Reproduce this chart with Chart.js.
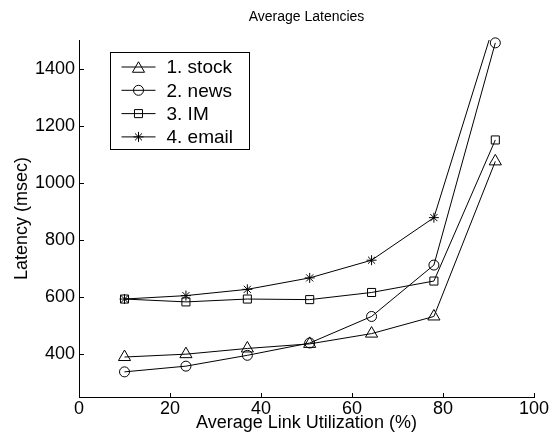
<!DOCTYPE html>
<html>
<head>
<meta charset="utf-8">
<script src="https://cdn.jsdelivr.net/npm/chart.js@4/dist/chart.umd.min.js"></script>
<style>
  html, body { margin: 0; padding: 0; background: #fff; }
  #wrap { width: 552px; height: 445px; }
</style>
</head>
<body>
<div id="wrap"><canvas id="c" width="552" height="445"></canvas></div>
<script>
const utilization = [10, 23.5, 37, 50.7, 64.3, 78, 91.5];
const stock = [390, 400, 420, 436, 472, 532, 1075];
const news  = [338, 358, 396, 439, 532, 712, 1490];
const im    = [593, 583, 593, 591, 616, 656, 1150];
const email = [593, 605, 627, 667, 729, 878, 1570];
const seriesNames = ['1. stock', '2. news', '3. IM', '4. email'];
const xTicks = [0, 20, 40, 60, 80, 100];
const yTicks = [400, 600, 800, 1000, 1200, 1400];

const FONT = "'Liberation Sans', Arial, Helvetica, sans-serif";

function pts(vals) { return vals.map((v, i) => ({ x: utilization[i], y: v })); }

const styles = [
  { pointStyle: 'triangle', radius: 7 },
  { pointStyle: 'circle', radius: 5 },
  { pointStyle: 'rect', radius: 5.7 },
  { pointStyle: 'star', radius: 5 }
];
const seriesData = [stock, news, im, email];

function drawMarker(ctx, style, r, x, y) {
  ctx.beginPath();
  if (style === 'circle') {
    ctx.arc(x, y, r, 0, Math.PI * 2);
  } else if (style === 'triangle') {
    for (let k = 0; k < 3; k++) {
      const a = -Math.PI / 2 + k * 2 * Math.PI / 3;
      const px = x + r * Math.cos(a), py = y + r * Math.sin(a) + r * 0.25;
      if (k === 0) ctx.moveTo(px, py); else ctx.lineTo(px, py);
    }
    ctx.closePath();
  } else if (style === 'rect') {
    const s = r / Math.SQRT2;
    ctx.rect(x - s, y - s, 2 * s, 2 * s);
  } else if (style === 'star') {
    ctx.moveTo(x - r, y); ctx.lineTo(x + r, y);
    ctx.moveTo(x, y - r); ctx.lineTo(x, y + r);
    const d = r * Math.SQRT1_2;
    ctx.moveTo(x - d, y - d); ctx.lineTo(x + d, y + d);
    ctx.moveTo(x - d, y + d); ctx.lineTo(x + d, y - d);
  }
  ctx.stroke();
}

const extrasPlugin = {
  id: 'extras',
  afterDraw(chart) {
    const ctx = chart.ctx;
    const ca = chart.chartArea;
    const xs = chart.scales.x, ys = chart.scales.y;
    ctx.save();
    ctx.strokeStyle = '#000';
    ctx.lineWidth = 1;
    // inward tick marks
    ctx.beginPath();
    xTicks.forEach(v => {
      const px = Math.round(xs.getPixelForValue(v)) + 0.5;
      ctx.moveTo(px, Math.round(ca.bottom) + 0.5);
      ctx.lineTo(px, Math.round(ca.bottom) - 4);
    });
    yTicks.forEach(v => {
      const py = Math.round(ys.getPixelForValue(v)) + 0.5;
      ctx.moveTo(Math.round(ca.left) + 0.5, py);
      ctx.lineTo(Math.round(ca.left) + 5, py);
    });
    ctx.stroke();
    // title
    ctx.fillStyle = '#000';
    ctx.font = '14px ' + FONT;
    ctx.textAlign = 'center';
    ctx.textBaseline = 'middle';
    ctx.fillText('Average Latencies', (ca.left + ca.right) / 2, 17);
    // legend
    const bx = ca.left + 31.5, by = ca.top + 12.5, bw = 139, bh = 97;
    ctx.fillStyle = '#fff';
    ctx.fillRect(bx, by, bw, bh);
    ctx.strokeRect(bx, by, bw, bh);
    ctx.font = '19px ' + FONT;
    ctx.textAlign = 'left';
    ctx.fillStyle = '#000';
    chart.data.datasets.forEach((ds, i) => {
      const y = by + 14.5 + i * 23.3;
      ctx.beginPath();
      ctx.moveTo(bx + 11, y);
      ctx.lineTo(bx + 45, y);
      ctx.stroke();
      drawMarker(ctx, styles[i].pointStyle, styles[i].radius, bx + 28, y);
      ctx.fillText(ds.label, bx + 56, y + 1);
    });
    ctx.restore();
  }
};

new Chart(document.getElementById('c'), {
  type: 'line',
  data: {
    datasets: seriesData.map((vals, i) => ({
      label: seriesNames[i],
      data: pts(vals),
      borderColor: '#000',
      borderWidth: 1,
      backgroundColor: 'rgba(0,0,0,0)',
      pointStyle: styles[i].pointStyle,
      pointRadius: styles[i].radius,
      pointHoverRadius: styles[i].radius,
      pointBorderColor: '#000',
      pointBackgroundColor: 'rgba(0,0,0,0)',
      pointBorderWidth: 1,
      tension: 0,
      fill: false,
      clip: i === 1 ? 8 : undefined
    }))
  },
  options: {
    responsive: false,
    animation: false,
    devicePixelRatio: 1,
    layout: { padding: { top: 40, right: 18, bottom: 0, left: 0 } },
    plugins: {
      legend: { display: false },
      title: { display: false },
      tooltip: { enabled: false }
    },
    scales: {
      x: {
        type: 'linear',
        min: 0, max: 100,
        afterBuildTicks: s => { s.ticks = xTicks.map(v => ({ value: v })); },
        afterFit: s => { s.height = 48; },
        grid: { display: false, drawTicks: false },
        border: { display: true, color: '#000', width: 1 },
        ticks: { color: '#000', font: { size: 18, family: FONT }, padding: 1, maxRotation: 0, autoSkip: false,
                 callback: v => String(v) },
        title: { display: true, text: 'Average Link Utilization (%)', color: '#000',
                 font: { size: 18, family: FONT }, padding: { top: 0, bottom: 11 } }
      },
      y: {
        type: 'linear',
        min: 250, max: 1500,
        afterBuildTicks: s => { s.ticks = yTicks.map(v => ({ value: v })); },
        afterFit: s => { s.width = 79; },
        grid: { display: false, drawTicks: false },
        border: { display: true, color: '#000', width: 1 },
        ticks: { color: '#000', font: { size: 18, family: FONT }, padding: 4, autoSkip: false,
                 callback: v => String(v) },
        title: { display: true, text: 'Latency (msec)', color: '#000',
                 font: { size: 18, family: FONT }, padding: { top: 11, bottom: 0 } }
      }
    }
  },
  plugins: [extrasPlugin]
});
</script>
</body>
</html>
